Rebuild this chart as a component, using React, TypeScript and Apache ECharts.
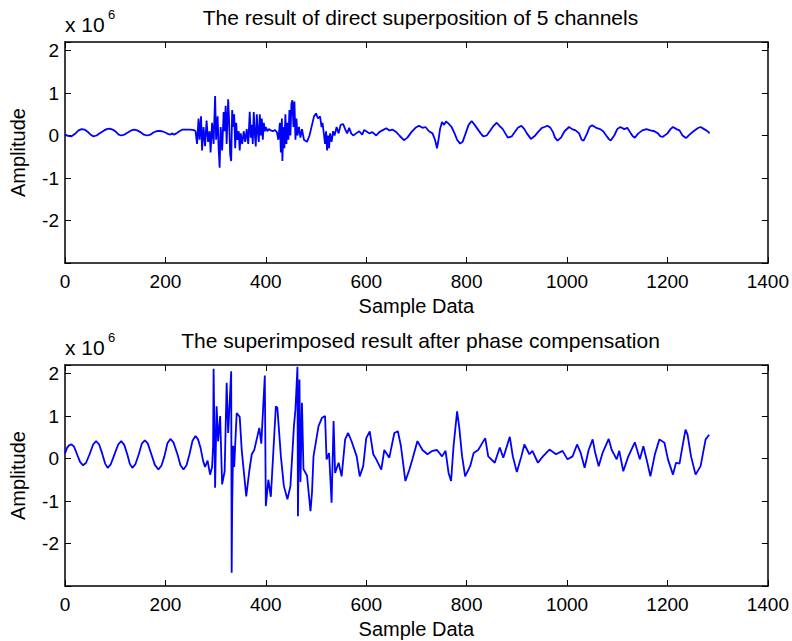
import React, { useEffect, useRef } from "react";
import * as echarts from "echarts";

// Top subplot: direct superposition (sample index, amplitude in 1e6)
const topSamples = [0,6,13,20,27,33,39,45,50,56,63,70,78,83,89,95,102,107,112,118,125,132,138,144,150,157,164,170,176,182,187,193,200,206,210,213,217,222,228,234,240,248,254,258,
260,263,266,268,271,273,276,279,282,285,288,290,293,296,299,301,304,306,308,310,313,316,318,320,322,325,327,329,331,333,335,337,339,341,343,346,348,350,353,356,359,362,365,368,370,372,374,376,378,380,382,384,386,388,390,392,394,396,398,400,403,406,410,414,418,422,425,428,430,432,433,435,437,439,441,443,445,447,449,451,453,455,457,459,461,463,466,469,472,476,482,487,492,496,500,504,508,511,513,515,518,520,522,524,526,528,531,534,537,541,545,549,554,558,562,566,570,574,580,586,592,596,600,606,612,620,626,632,640,646,652,659,666,675,682,690,698,705,712,718,725,732,737,741,744,747,751,755,759,764,770,776,781,787,792,798,804,810,816,822,828,833,840,846,853,860,866,872,877,882,890,896,902,909,915,920,928,935,942,950,955,961,967,972,976,981,988,995,1004,1010,1017,1024,1029,1033,1040,1045,1050,1058,1066,1072,1078,1083,1087,1094,1100,1106,1114,1120,1127,1131,1135,1142,1150,1158,1166,1174,1181,1186,1191,1200,1206,1211,1218,1224,1230,1237,1244,1252,1260,1266,1273,1280,1284];
const topAmplitude = [0.02,-0.01,-0.02,0.04,0.12,0.15,0.14,0.09,0.03,-0.02,0.0,0.06,0.12,0.15,0.16,0.14,0.08,0.02,0.0,0.02,0.07,0.12,0.14,0.12,0.08,0.02,0.0,0.02,0.07,0.1,0.11,0.1,0.07,0.03,0.02,0.05,0.02,0.05,0.1,0.14,0.14,0.14,0.13,0.12,
0.1,-0.2,0.4,-0.1,0.45,-0.35,0.2,-0.25,0.35,-0.15,0.1,-0.4,0.3,-0.2,0.93,-0.1,0.45,-0.3,-0.76,0.2,-0.35,0.55,0.1,0.7,-0.2,0.85,0.3,-0.45,-0.6,0.6,0.2,0.5,-0.3,0.3,-0.1,0.1,-0.35,0.05,-0.2,0.1,-0.15,0.15,-0.2,0.56,-0.05,0.25,-0.2,0.55,0.05,-0.26,0.5,0.1,-0.15,0.5,0.0,0.4,-0.1,0.3,0.1,0.2,0.1,0.15,0.12,0.1,0.13,0.08,-0.1,0.3,-0.4,0.4,-0.6,0.2,-0.3,0.5,-0.2,0.3,-0.1,0.6,0.0,0.75,0.83,0.2,0.8,-0.1,0.4,0.0,0.2,-0.05,0.15,-0.1,-0.15,0.0,0.25,0.45,0.52,0.4,0.45,0.2,0.3,0.1,-0.2,0.1,-0.35,0.0,-0.3,0.05,-0.15,0.1,0.0,0.2,0.05,0.25,0.27,0.15,0.05,0.18,0.05,0.0,0.05,0.1,0.02,0.13,0.1,0.05,0.08,0.0,0.08,0.12,0.17,0.12,0.14,0.09,0.0,-0.11,-0.05,0.08,0.18,0.23,0.18,0.2,0.1,0.05,-0.1,-0.3,-0.1,0.15,0.32,0.25,0.33,0.28,0.2,0.05,-0.1,-0.19,-0.15,0.05,0.25,0.34,0.25,0.15,0.05,-0.02,0.0,0.1,0.22,0.3,0.22,0.15,0.05,-0.05,-0.02,0.08,0.18,0.23,0.15,0.05,-0.08,-0.02,0.08,0.18,0.2,0.23,0.18,0.08,-0.05,-0.12,-0.05,0.1,0.2,0.15,0.12,0.05,-0.1,-0.12,0.05,0.2,0.24,0.18,0.15,0.1,0.0,-0.08,-0.12,0.0,0.15,0.2,0.15,0.18,0.05,-0.02,-0.05,0.05,0.12,0.15,0.12,0.1,0.05,-0.02,-0.03,0.05,0.15,0.2,0.15,0.12,0.0,-0.06,0.02,0.1,0.17,0.2,0.15,0.1,0.05];

// Bottom subplot: after phase compensation (sample index, amplitude in 1e6)
const bottomSamples = [0,4,8,13,18,24,30,36,42,49,56,62,68,74,80,85,91,98,106,112,118,124,129,134,140,147,153,159,165,172,179,186,192,198,204,210,216,224,230,236,242,248,254,260,265,270,275,279,284,289,293,295,296,299,302,305,309,313,318,322,325,331,332,333,335,337,342,348,352,361,367,372,377,387,391,398,400,405,410,420,423,430,436,443,449,456,459,463,464,467,469,472,475,482,489,492,495,505,512,518,521,526,531,535,538,545,551,558,564,571,581,587,594,600,607,614,620,630,636,646,656,663,669,678,686,692,702,712,722,732,741,751,758,764,769,774,781,785,791,797,807,814,823,837,843,856,866,873,886,892,900,909,915,925,931,942,952,965,978,991,1001,1011,1020,1027,1035,1043,1051,1056,1063,1071,1083,1089,1099,1104,1112,1122,1135,1145,1152,1160,1166,1175,1184,1194,1201,1211,1217,1224,1230,1236,1240,1247,1256,1266,1276,1283];
const bottomAmplitude = [0.12,0.25,0.31,0.33,0.28,0.1,-0.08,-0.16,-0.1,0.1,0.33,0.41,0.33,0.12,-0.12,-0.22,-0.14,0.08,0.33,0.41,0.32,0.1,-0.12,-0.22,-0.14,0.1,0.35,0.43,0.35,0.1,-0.15,-0.26,-0.17,0.05,0.36,0.46,0.38,0.1,-0.16,-0.26,-0.16,0.1,0.42,0.53,0.45,0.25,-0.05,-0.2,-0.05,-0.38,-0.2,0.3,2.11,-0.69,1.23,0.4,1.0,-0.61,-0.3,1.78,0.6,2.05,-2.69,-1.1,0.3,-0.2,1.07,0.98,0.2,-0.89,-0.3,0.1,0.2,0.72,0.35,1.95,-1.12,-0.5,-0.9,1.23,1.19,0.05,-0.65,-0.96,-0.65,0.76,1.15,2.16,-1.36,1.86,-0.55,1.31,-0.25,-0.4,-1.24,-0.8,0.05,0.76,0.96,1.0,-0.02,0.13,-1.04,0.88,-0.34,-0.1,-0.42,0.45,0.6,0.4,0.05,-0.42,-0.18,0.48,0.64,0.1,-0.02,-0.26,0.2,0.02,0.6,0.64,0.3,-0.53,-0.26,-0.02,0.41,0.2,0.1,0.18,0.2,0.05,0.18,-0.34,-0.53,0.3,1.11,0.76,0.05,-0.42,-0.18,0.13,0.2,0.48,0.05,-0.1,0.26,0.02,0.51,0.05,-0.32,0.05,0.33,0.1,0.18,-0.1,0.05,0.21,0.1,0.18,-0.02,0.05,0.33,0.14,-0.22,0.2,0.45,0.14,-0.18,0.14,0.46,0.2,-0.02,0.18,-0.3,0.05,0.38,-0.02,0.29,-0.1,-0.42,0.1,0.45,0.37,-0.02,-0.38,-0.1,-0.12,0.29,0.68,0.56,0.05,-0.38,-0.18,0.45,0.56];

const xTicks = [0, 200, 400, 600, 800, 1000, 1200, 1400];
const yTickLabels = [-2, -1, 0, 1, 2];
const titles = ["The result of direct superposition of 5 channels", "The superimposed result after phase compensation"];
const xAxisTitle = "Sample Data";
const yAxisTitle = "Amplitude";
const exponentLabel = "x 10";
const exponent = "6";

const FONT = "Liberation Sans, Arial, Helvetica, sans-serif";
const BLUE = "#0000ff";
const GRID_LEFT = 65;
const GRID_RIGHT = 16;
const GRID_H = 221;
const GRID_TOPS = [42, 365];

export default function App() {
  const ref = useRef<HTMLDivElement>(null);
  useEffect(() => {
    document.body.style.margin = "0";
    if (!ref.current) return;
    const chart = echarts.init(ref.current, null, { renderer: "svg" });
    const xmin = xTicks[0];
    const xmax = xTicks[xTicks.length - 1];
    const ymin = -3;
    const ymax = 2.2;
    const axisLine = { show: true, onZero: false, lineStyle: { color: "#000", width: 1.5 } };
    const tick = { show: true, inside: true, length: 6, lineStyle: { color: "#000", width: 1 } };
    const labelFmtY = (v: number) => (yTickLabels.includes(v) ? String(v) : "");
    const labelFmtX = (v: number) => (xTicks.includes(v) ? String(v) : "");

    const xAxes: any[] = [];
    const yAxes: any[] = [];
    const graphics: any[] = [];
    [0, 1].forEach((g) => {
      xAxes.push({
        gridIndex: g, type: "value", min: xmin, max: xmax, interval: 200, position: "bottom",
        axisLine, axisTick: tick, splitLine: { show: false },
        axisLabel: { color: "#000", fontSize: 19, fontFamily: FONT, margin: 9, formatter: labelFmtX },
        name: xAxisTitle, nameLocation: "middle", nameGap: 33,
        nameTextStyle: { color: "#000", fontSize: 20, fontFamily: FONT },
      });
      xAxes.push({
        gridIndex: g, type: "value", min: xmin, max: xmax, interval: 200, position: "top",
        axisLine, axisTick: tick, splitLine: { show: false }, axisLabel: { show: false },
      });
      yAxes.push({
        gridIndex: g, type: "value", min: ymin, max: ymax, interval: 1, position: "left",
        axisLine, axisTick: tick, splitLine: { show: false },
        axisLabel: { color: "#000", fontSize: 19, fontFamily: FONT, margin: 6, formatter: labelFmtY },
        name: yAxisTitle, nameLocation: "middle", nameGap: 37,
        nameTextStyle: { color: "#000", fontSize: 20, fontFamily: FONT },
      });
      yAxes.push({
        gridIndex: g, type: "value", min: ymin, max: ymax, interval: 1, position: "right",
        axisLine, axisTick: tick, splitLine: { show: false }, axisLabel: { show: false },
      });
      const top = GRID_TOPS[g];
      graphics.push({
        type: "text", x: GRID_LEFT + (792 - GRID_LEFT - GRID_RIGHT) / 2, y: top - 25,
        style: { text: titles[g], fill: "#000", font: `21px ${FONT}`, textAlign: "center", textVerticalAlign: "middle" },
      });
      graphics.push({
        type: "text", x: 65, y: top - 18,
        style: { text: exponentLabel, fill: "#000", font: `21px ${FONT}`, textAlign: "left", textVerticalAlign: "middle" },
      });
      graphics.push({
        type: "text", x: 108, y: top - 28,
        style: { text: exponent, fill: "#000", font: `13px ${FONT}`, textAlign: "left", textVerticalAlign: "middle" },
      });
    });

    chart.setOption({
      animation: false,
      backgroundColor: "#fff",
      grid: GRID_TOPS.map((t) => ({ left: GRID_LEFT, right: GRID_RIGHT, top: t, height: GRID_H })),
      xAxis: xAxes,
      yAxis: yAxes,
      graphic: graphics,
      series: [
        {
          type: "line", xAxisIndex: 0, yAxisIndex: 0, showSymbol: false,
          lineStyle: { color: BLUE, width: 1.8 },
          data: topSamples.map((x, i) => [x, topAmplitude[i]]),
        },
        {
          type: "line", xAxisIndex: 2, yAxisIndex: 2, showSymbol: false,
          lineStyle: { color: BLUE, width: 1.8 },
          data: bottomSamples.map((x, i) => [x, bottomAmplitude[i]]),
        },
      ],
    });
    return () => chart.dispose();
  }, []);
  return <div ref={ref} style={{ width: 792, height: 641 }} />;
}
